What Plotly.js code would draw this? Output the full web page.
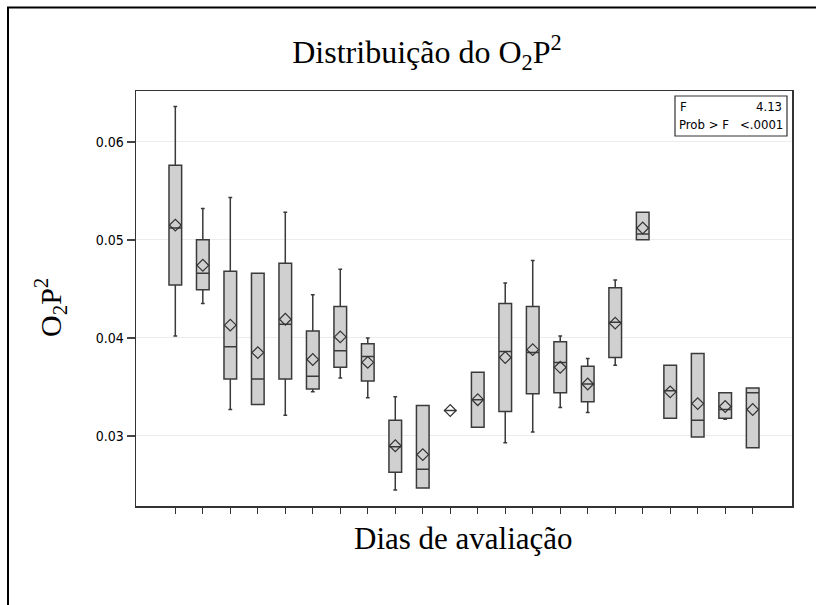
<!DOCTYPE html>
<html>
<head>
<meta charset="utf-8">
<script src="https://cdn.plot.ly/plotly-3.0.1.min.js"></script>
<style>html,body{margin:0;padding:0;background:#fff;}#chart{width:816px;height:605px;}</style>
</head>
<body>
<div id="chart"></div>
<script>
// Days of evaluation (22 groups, unlabeled in the original)
const days = [1,2,3,4,5,6,7,8,9,10,11,12,13,14,15,16,17,18,19,20,21,22];
const lowerWhisker = [0.0402,0.0435,0.0327,0.0332,0.0321,0.0345,0.0359,0.0339,0.0245,0.0247,0.0326,0.0309,0.0293,0.0304,0.0329,0.0324,0.0372,0.0500,0.0318,0.0299,0.0317,0.0288];
const q1Values     = [0.0454,0.0449,0.0358,0.0332,0.0358,0.0348,0.0370,0.0356,0.0263,0.0247,0.0326,0.0309,0.0325,0.0343,0.0344,0.0335,0.0380,0.0500,0.0318,0.0299,0.0318,0.0288];
const medianValues = [0.0512,0.0466,0.0391,0.0358,0.0414,0.0361,0.0387,0.0381,0.0289,0.0266,0.0326,0.0337,0.0386,0.0385,0.0375,0.0353,0.0416,0.0506,0.0346,0.0316,0.0327,0.0344];
const meanValues   = [0.0515,0.0474,0.0413,0.0385,0.0419,0.0378,0.0401,0.0375,0.0290,0.0281,0.0326,0.0337,0.0380,0.0388,0.0370,0.0353,0.0415,0.0512,0.0345,0.0333,0.0330,0.0327];
const q3Values     = [0.0576,0.0500,0.0468,0.0466,0.0476,0.0407,0.0432,0.0394,0.0316,0.0331,0.0326,0.0365,0.0435,0.0432,0.0396,0.0371,0.0451,0.0528,0.0372,0.0384,0.0344,0.0349];
const upperWhisker = [0.0636,0.0532,0.0543,0.0466,0.0528,0.0444,0.0470,0.0400,0.0340,0.0331,0.0326,0.0365,0.0456,0.0479,0.0402,0.0379,0.0459,0.0528,0.0372,0.0384,0.0344,0.0349];
const yTickVals = [0.03,0.04,0.05,0.06];
const yTickText = ['0.03','0.04','0.05','0.06'];
const statLabels = ['F','Prob > F'];
const statValues = ['4.13','<.0001'];

// plot-area pixel geometry helpers
const L = 136, R = 792, T = 91, B = 506;
const px = x => (x - L) / (R - L);
const py = y => (B - y) / (B - T);

const narrow = 'Liberation Sans Narrow, Arial Narrow, DejaVu Sans Condensed, sans-serif';
const serif = 'Liberation Serif, Times New Roman, serif';

const boxTrace = {
  type: 'box',
  x: days,
  q1: q1Values,
  median: medianValues,
  q3: q3Values,
  lowerfence: lowerWhisker,
  upperfence: upperWhisker,
  width: 0.46,
  whiskerwidth: 0.3,
  fillcolor: '#d0d0d0',
  line: {color: '#3a3a3a', width: 1.5},
  hoverinfo: 'skip',
  showlegend: false
};
const meanTrace = {
  type: 'scatter',
  mode: 'markers',
  x: days,
  y: meanValues,
  marker: {symbol: 'diamond-open', size: 9, color: '#333', line: {width: 1.2, color: '#333'}},
  hoverinfo: 'skip',
  showlegend: false
};

const annotations = [
  {text: 'Dias de avaliação', xref: 'paper', yref: 'paper', x: px(463), y: py(538), xanchor: 'center', yanchor: 'middle', showarrow: false, font: {family: serif, size: 31, color: '#000'}},
  {text: 'O<sub>2</sub>P<sup>2</sup>', xref: 'paper', yref: 'paper', x: px(50), y: py(308), xanchor: 'center', yanchor: 'middle', textangle: -90, showarrow: false, font: {family: serif, size: 30, color: '#000'}},
  {text: statLabels[0], xref: 'paper', yref: 'paper', x: px(678), y: py(106), xanchor: 'left', yanchor: 'middle', showarrow: false, font: {family: narrow, size: 13, color: '#000'}},
  {text: statValues[0], xref: 'paper', yref: 'paper', x: px(784), y: py(106), xanchor: 'right', yanchor: 'middle', showarrow: false, font: {family: narrow, size: 13, color: '#000'}},
  {text: statLabels[1], xref: 'paper', yref: 'paper', x: px(677), y: py(124), xanchor: 'left', yanchor: 'middle', showarrow: false, font: {family: narrow, size: 13, color: '#000'}},
  {text: statValues[1], xref: 'paper', yref: 'paper', x: px(785), y: py(124), xanchor: 'right', yanchor: 'middle', showarrow: false, font: {family: narrow, size: 13, color: '#000'}}
];

const shapes = [
  {type: 'line', xref: 'paper', yref: 'paper', x0: px(8), x1: px(8), y0: py(7), y1: py(610), line: {color: '#000', width: 2}},
  {type: 'line', xref: 'paper', yref: 'paper', x0: px(7), x1: px(820), y0: py(7.5), y1: py(7.5), line: {color: '#000', width: 2}},
  {type: 'rect', xref: 'paper', yref: 'paper', x0: px(675), x1: px(787), y0: py(136), y1: py(96), line: {color: '#333', width: 1.2}, fillcolor: '#fff', layer: 'above'}
];

const layout = {
  width: 816, height: 605,
  margin: {l: L, r: 816 - R, t: T, b: 605 - B, pad: 0},
  paper_bgcolor: '#fff', plot_bgcolor: '#fff',
  title: {text: 'Distribuição do O<sub>2</sub>P<sup>2</sup>', x: px(427), xref: 'paper', xanchor: 'center', y: 1 - 52 / 605, yref: 'container', yanchor: 'middle', font: {family: serif, size: 32, color: '#000'}},
  xaxis: {
    range: [-0.43, 23.43], tickmode: 'array', tickvals: days, showticklabels: false,
    ticks: 'outside', ticklen: 6, tickwidth: 1, tickcolor: '#333',
    showgrid: false, zeroline: false, showline: true, mirror: true, linecolor: '#333', linewidth: 1.5
  },
  yaxis: {
    range: [0.02286, 0.06517], tickmode: 'array', tickvals: yTickVals, ticktext: yTickText,
    ticks: 'outside', ticklen: 8, tickwidth: 2, tickcolor: '#444',
    tickfont: {family: narrow, size: 14, color: '#000'},
    showgrid: true, gridcolor: '#ececec', gridwidth: 1,
    zeroline: false, showline: true, mirror: true, linecolor: '#333', linewidth: 1.5
  },
  annotations: annotations,
  shapes: shapes,
  showlegend: false
};

Plotly.newPlot('chart', [boxTrace, meanTrace], layout, {displayModeBar: false, staticPlot: true});
</script>
</body>
</html>
